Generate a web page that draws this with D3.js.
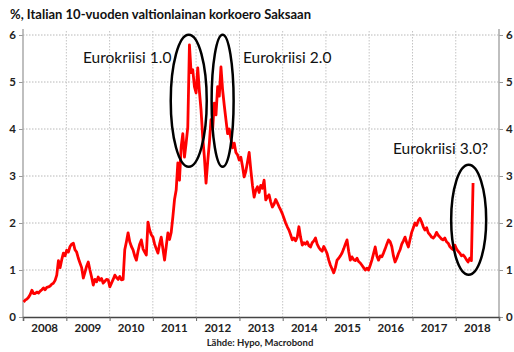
<!DOCTYPE html>
<meta charset="utf-8">
<script src="https://cdn.jsdelivr.net/npm/d3@7/dist/d3.min.js"></script>
<style>
  body { margin: 0; background: #fff; }
  text { font-family: "Lato", "Liberation Sans", sans-serif; }
</style>
<div id="chart"></div>
<script>

// spread, %-points, one reading every two weeks starting 6 Jan 2008
var startDate = new Date(2008, 0, 6);
var spread = [
  0.32, 0.36, 0.38, 0.42, 0.48, 0.57, 0.50, 0.50, 0.53, 0.51,
  0.55, 0.58, 0.62, 0.58, 0.63, 0.64, 0.66, 0.70, 0.72, 0.78,
  0.89, 1.20, 1.05, 1.22, 1.36, 1.30, 1.42, 1.38, 1.50, 1.55,
  1.57, 1.43, 1.38, 1.25, 1.15, 1.05, 0.83, 0.95, 1.08, 1.17,
  1.00, 0.85, 0.68, 0.80, 0.75, 0.85, 0.78, 0.82, 0.72, 0.76,
  0.80, 0.79, 0.64, 0.72, 0.80, 0.89, 0.84, 0.80, 0.86, 0.79,
  0.80, 1.43, 1.60, 1.79, 1.60, 1.50, 1.43, 1.30, 1.21, 1.40,
  1.55, 1.64, 1.45, 1.38, 1.32, 2.02, 1.85, 1.75, 1.70, 1.55,
  1.45, 1.36, 1.55, 1.70, 1.45, 1.21, 1.50, 1.79, 1.65, 1.80,
  2.13, 2.50, 2.70, 3.28, 2.91, 3.62, 3.90, 3.40, 3.70, 4.04,
  5.79, 5.20, 5.26, 4.90, 4.77, 5.30, 4.80, 4.40, 3.83, 3.40,
  2.85, 3.30, 3.70, 4.20, 4.00, 4.55, 4.30, 4.90, 4.70, 5.32,
  4.83, 4.50, 4.20, 3.90, 4.00, 3.80, 3.60, 3.70, 3.50, 3.45,
  3.34, 3.40, 3.20, 2.98, 3.10, 3.30, 3.50, 3.13, 2.80, 2.55,
  2.70, 2.77, 2.65, 2.80, 2.74, 2.91, 2.49, 2.55, 2.60, 2.45,
  2.34, 2.40, 2.50, 2.43, 2.35, 2.28, 2.20, 2.10, 2.00, 1.92,
  1.85, 1.75, 1.64, 1.68, 1.62, 1.70, 1.92, 1.70, 1.53, 1.58,
  1.55, 1.60, 1.52, 1.49, 1.58, 1.62, 1.68, 1.55, 1.48, 1.43,
  1.40, 1.50, 1.43, 1.35, 1.21, 1.10, 1.02, 0.94, 1.05, 1.21,
  1.25, 1.30, 1.36, 1.45, 1.55, 1.64, 1.40, 1.21, 1.28, 1.22,
  1.20, 1.25, 1.18, 1.15, 1.10, 1.05, 1.00, 1.04, 1.00, 1.10,
  1.21, 1.35, 1.49, 1.30, 1.21, 1.30, 1.28, 1.36, 1.45, 1.55,
  1.64, 1.60, 1.50, 1.30, 1.17, 1.25, 1.35, 1.43, 1.55, 1.62,
  1.70, 1.58, 1.49, 1.65, 1.80, 1.90, 2.00, 1.95, 2.05, 2.10,
  2.02, 1.92, 1.85, 1.90, 1.79, 1.75, 1.70, 1.68, 1.72, 1.80,
  1.74, 1.70, 1.66, 1.64, 1.68, 1.60, 1.57, 1.50, 1.46, 1.43,
  1.53, 1.45, 1.40, 1.36, 1.30, 1.32, 1.28, 1.22, 1.17, 1.25,
  1.20, 2.85
];

var years = [2008, 2009, 2010, 2011, 2012, 2013, 2014, 2015, 2016, 2017, 2018];
var yTicks = [0, 1, 2, 3, 4, 5, 6];

var notes = [
  {label: "Eurokriisi 1.0", x: 83, y: 63},
  {label: "Eurokriisi 2.0", x: 243, y: 63},
  {label: "Eurokriisi 3.0?", x: 393, y: 154}
];
// circled periods: centre date, centre value
var circles = [
  {date: new Date(2011, 9, 31), value: 4.6, rx: 18, ry: 66},
  {date: new Date(2012, 7, 12), value: 4.6, rx: 11, ry: 66},
  {date: new Date(2018, 3, 20), value: 2.07, rx: 17.5, ry: 55}
];

var width = 514, height = 352;
var plotLeft = 23, plotRight = 499, plotTop = 35, plotBottom = 317;

var svg = d3.select("#chart").append("svg")
  .attr("width", width)
  .attr("height", height);

var data = spread.map(function(v, i) {
  return {date: d3.timeDay.offset(startDate, 14 * i), value: v};
});

var x = d3.scaleTime()
  .domain([new Date(2008, 0, 1), new Date(2019, 0, 1)])
  .range([plotLeft, plotRight]);
var y = d3.scaleLinear()
  .domain([0, 6])
  .range([plotBottom, plotTop]);

// grid
svg.append("g").selectAll("line")
  .data(yTicks.slice(1))
  .enter().append("line")
    .attr("x1", plotLeft).attr("x2", plotRight)
    .attr("y1", function(d) { return y(d); })
    .attr("y2", function(d) { return y(d); })
    .attr("stroke", "#b8b8b8")
    .attr("stroke-dasharray", "1.5,1.5");
svg.append("g").selectAll("line")
  .data(years.slice(1))
  .enter().append("line")
    .attr("x1", function(d) { return x(new Date(d, 0, 1)); })
    .attr("x2", function(d) { return x(new Date(d, 0, 1)); })
    .attr("y1", plotTop - 4).attr("y2", plotBottom)
    .attr("stroke", "#c4c4c4")
    .attr("stroke-dasharray", "1.5,1.5");

// axes
svg.append("g")
  .attr("transform", "translate(" + plotLeft + ",0)")
  .call(d3.axisLeft(y).tickValues(yTicks).tickFormat(d3.format("d")).tickSize(4).tickPadding(3))
  .call(function(g) { g.select(".domain").remove(); });
svg.append("g")
  .attr("transform", "translate(" + plotRight + ",0)")
  .call(d3.axisRight(y).tickValues(yTicks).tickFormat(d3.format("d")).tickSize(4).tickPadding(3))
  .call(function(g) { g.select(".domain").remove(); });
svg.selectAll(".tick text")
  .attr("font-family", "Lato, sans-serif")
  .attr("font-size", 11.5)
  .attr("font-weight", "bold")
  .attr("fill", "#222");
svg.selectAll(".tick line").attr("stroke", "#999");

svg.append("line")
  .attr("x1", plotLeft).attr("x2", plotLeft).attr("y1", plotTop - 6).attr("y2", plotBottom)
  .attr("stroke", "#aaa").attr("stroke-width", 1.5);
svg.append("line")
  .attr("x1", plotRight).attr("x2", plotRight).attr("y1", plotTop - 6).attr("y2", plotBottom)
  .attr("stroke", "#aaa").attr("stroke-width", 1.5);

var xAxis = svg.append("g")
  .attr("transform", "translate(0," + plotBottom + ")")
  .call(d3.axisBottom(x)
    .tickValues(years.concat([2019]).map(function(d) { return new Date(d, 0, 1); }))
    .tickSize(4)
    .tickFormat(""));
xAxis.select(".domain").attr("stroke", "#444").attr("stroke-width", 1.5);
xAxis.selectAll(".tick line").attr("stroke", "#666");

svg.append("g").selectAll("text")
  .data(years)
  .enter().append("text")
    .attr("x", function(d) { return x(new Date(d, 6, 2)); })
    .attr("y", 332)
    .attr("text-anchor", "middle")
    .attr("font-size", 11.5)
    .attr("font-weight", "bold")
    .attr("fill", "#222")
    .text(function(d) { return d; });

// the series
svg.append("path")
  .datum(data)
  .attr("fill", "none")
  .attr("stroke", "#ff0000")
  .attr("stroke-width", 2.8)
  .attr("stroke-linejoin", "round")
  .attr("d", d3.line()
    .x(function(d) { return x(d.date); })
    .y(function(d) { return y(d.value); }));

// annotations
svg.append("g").selectAll("ellipse")
  .data(circles)
  .enter().append("ellipse")
    .attr("cx", function(d) { return x(d.date); })
    .attr("cy", function(d) { return y(d.value); })
    .attr("rx", function(d) { return d.rx; })
    .attr("ry", function(d) { return d.ry; })
    .attr("fill", "none")
    .attr("stroke", "#000")
    .attr("stroke-width", 2.5);

svg.append("g").selectAll("text")
  .data(notes)
  .enter().append("text")
    .attr("x", function(d) { return d.x; })
    .attr("y", function(d) { return d.y; })
    .attr("font-size", 15.5)
    .attr("fill", "#111")
    .text(function(d) { return d.label; });

// title and source
svg.append("text")
  .attr("x", 10).attr("y", 19)
  .attr("font-size", 13)
  .attr("font-weight", "bold")
  .attr("fill", "#111")
  .text("%, Italian 10-vuoden valtionlainan korkoero Saksaan");

svg.append("text")
  .attr("x", 260).attr("y", 346)
  .attr("text-anchor", "middle")
  .attr("font-size", 9.5)
  .attr("font-weight", "bold")
  .attr("fill", "#222")
  .text("Lähde: Hypo, Macrobond");

</script>
